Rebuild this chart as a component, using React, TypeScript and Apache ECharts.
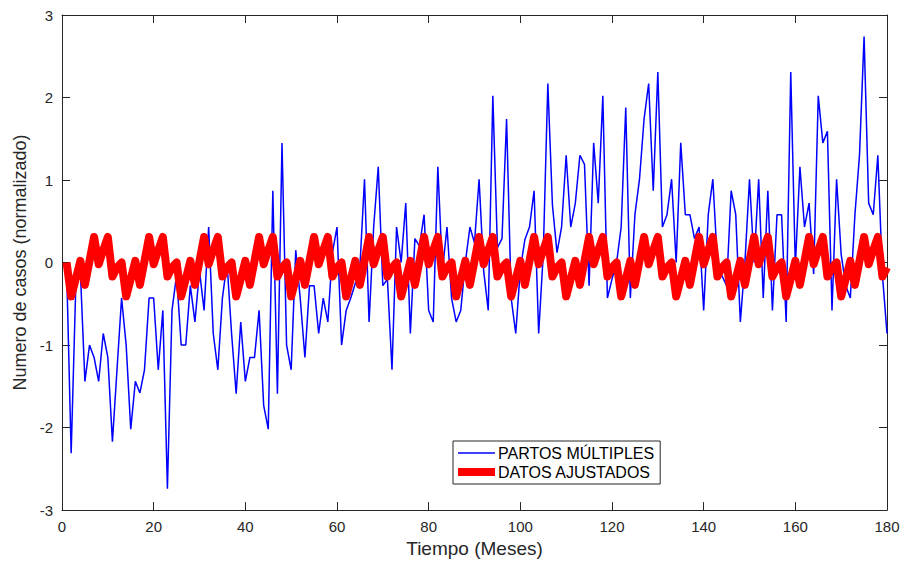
import React, { useEffect, useRef } from "react";
import * as echarts from "echarts";

const partosMultiples: number[] = [
  -0.05, -2.31, -0.3, -0.1, -1.44, -1.0, -1.15, -1.44, -0.86, -1.15, -2.17, -1.3,
  -0.43, -1.0, -2.02, -1.44, -1.58, -1.3, -0.43, -0.43, -1.3, -0.58, -2.74, -0.58,
  -0.15, -1.0, -1.0, -0.28, -0.72, -0.1, -0.58, 0.43, -0.86, -1.3, -0.43, 0.0,
  -0.86, -1.59, -0.72, -1.44, -1.15, -1.15, -0.58, -1.73, -2.02, 0.87, -1.59, 1.45,
  -1.0, -1.3, 0.15, -0.45, -1.15, -0.28, -0.28, -0.86, -0.43, -0.72, 0.12, 0.43,
  -1.0, -0.58, -0.43, -0.25, -0.05, 1.01, -0.72, 0.43, 1.16, -0.28, -0.2, -1.3,
  0.43, 0.0, 0.72, -0.86, 0.29, 0.2, 0.58, -0.58, -0.72, 1.16, -0.1, 0.43,
  -0.43, -0.72, -0.58, 0.0, 0.43, 0.24, 1.01, -0.1, -0.58, 2.02, 0.18, 0.29,
  1.74, -0.43, -0.86, -0.08, 0.28, 0.43, 0.87, -0.86, 0.1, 2.17, 0.7, 0.12,
  0.43, 1.3, 0.43, 0.72, 1.3, 1.19, -0.28, 1.45, 0.72, 2.02, -0.43, -0.2,
  0.0, 0.43, 1.88, -0.43, 0.58, 1.01, 1.74, 2.17, 0.87, 2.31, 0.43, 0.58,
  1.01, 0.0, 1.45, 0.58, 0.58, 0.29, 0.43, -0.58, 0.58, 1.01, 0.0, -0.16,
  -0.28, 0.87, 0.58, -0.72, 0.0, 1.01, 0.0, 1.01, -0.43, 0.87, -0.58, 0.58,
  0.58, -0.72, 2.31, -0.05, 1.16, 0.43, 0.72, -0.14, 2.02, 1.45, 1.59, -0.58,
  1.01, 0.1, -0.28, -0.43, 0.58, 1.3, 2.74, 0.72, 0.58, 1.3, -0.15, -0.86,
];

const datosAjustados: number[] = [
  0.0, -0.41, -0.2, 0.02, -0.27, 0.02, 0.31, -0.02, 0.15, 0.31, -0.17, -0.06,
  0.0, -0.41, -0.2, 0.02, -0.27, 0.02, 0.31, -0.02, 0.15, 0.31, -0.17, -0.06,
  0.0, -0.41, -0.2, 0.02, -0.27, 0.02, 0.31, -0.02, 0.15, 0.31, -0.17, -0.06,
  0.0, -0.41, -0.2, 0.02, -0.27, 0.02, 0.31, -0.02, 0.15, 0.31, -0.17, -0.06,
  0.0, -0.41, -0.2, 0.02, -0.27, 0.02, 0.31, -0.02, 0.15, 0.31, -0.17, -0.06,
  0.0, -0.41, -0.2, 0.02, -0.27, 0.02, 0.31, -0.02, 0.15, 0.31, -0.17, -0.06,
  0.0, -0.41, -0.2, 0.02, -0.27, 0.02, 0.31, -0.02, 0.15, 0.31, -0.17, -0.06,
  0.0, -0.41, -0.2, 0.02, -0.27, 0.02, 0.31, -0.02, 0.15, 0.31, -0.17, -0.06,
  0.0, -0.41, -0.2, 0.02, -0.27, 0.02, 0.31, -0.02, 0.15, 0.31, -0.17, -0.06,
  0.0, -0.41, -0.2, 0.02, -0.27, 0.02, 0.31, -0.02, 0.15, 0.31, -0.17, -0.06,
  0.0, -0.41, -0.2, 0.02, -0.27, 0.02, 0.31, -0.02, 0.15, 0.31, -0.17, -0.06,
  0.0, -0.41, -0.2, 0.02, -0.27, 0.02, 0.31, -0.02, 0.15, 0.31, -0.17, -0.06,
  0.0, -0.41, -0.2, 0.02, -0.27, 0.02, 0.31, -0.02, 0.15, 0.31, -0.17, -0.06,
  0.0, -0.41, -0.2, 0.02, -0.27, 0.02, 0.31, -0.02, 0.15, 0.31, -0.17, -0.06,
  0.0, -0.41, -0.2, 0.02, -0.27, 0.02, 0.31, -0.02, 0.15, 0.31, -0.17, -0.06,
];

const seriesNames = ["PARTOS MÚLTIPLES", "DATOS AJUSTADOS"];
const xTitle = "Tiempo (Meses)";
const yTitle = "Numero de casos (normalizado)";

const FONT = "'Liberation Sans', Arial, Helvetica, sans-serif";
const AXIS_COLOR = "#262626";

export default function App() {
  const ref = useRef<HTMLDivElement>(null);

  useEffect(() => {
    document.body.style.margin = "0";
    if (!ref.current) return;
    const chart = echarts.init(ref.current, undefined, { renderer: "svg" });

    const blue = partosMultiples.map((v, i) => [i + 1, v]);
    const red = datosAjustados.map((v, i) => [i + 1, v]);

    const baseX = {
      type: "value" as const,
      min: 0,
      max: 180,
      interval: 20,
      splitLine: { show: false },
      axisLine: { show: true, onZero: false, lineStyle: { color: AXIS_COLOR, width: 1 } },
      axisTick: { show: true, inside: true, length: 8, lineStyle: { color: AXIS_COLOR } },
    };
    const baseY = {
      type: "value" as const,
      min: -3,
      max: 3,
      interval: 1,
      splitLine: { show: false },
      axisLine: { show: true, onZero: false, lineStyle: { color: AXIS_COLOR, width: 1 } },
      axisTick: { show: true, inside: true, length: 8, lineStyle: { color: AXIS_COLOR } },
    };

    chart.setOption({
      animation: false,
      backgroundColor: "#ffffff",
      grid: { left: 62, right: 17, top: 15, bottom: 51, containLabel: false },
      xAxis: [
        {
          ...baseX,
          position: "bottom",
          name: xTitle,
          nameLocation: "middle",
          nameGap: 28,
          nameTextStyle: { fontFamily: FONT, fontSize: 19, color: AXIS_COLOR },
          axisLabel: { fontFamily: FONT, fontSize: 15, color: AXIS_COLOR, margin: 9 },
        },
        { ...baseX, position: "top", axisLabel: { show: false } },
      ],
      yAxis: [
        {
          ...baseY,
          position: "left",
          name: yTitle,
          nameLocation: "middle",
          nameGap: 32,
          nameTextStyle: { fontFamily: FONT, fontSize: 18, color: AXIS_COLOR },
          axisLabel: { fontFamily: FONT, fontSize: 15, color: AXIS_COLOR, margin: 9 },
        },
        { ...baseY, position: "right", axisLabel: { show: false } },
      ],
      legend: {
        orient: "vertical",
        left: 453,
        top: 441,
        data: [
          { name: seriesNames[0], icon: "path://M0,0 H37 V1.6 H0 Z" },
          { name: seriesNames[1], icon: "path://M0,0 H37 V8 H0 Z" },
        ],
        itemWidth: 37,
        itemHeight: 14,
        itemGap: 3,
        symbolKeepAspect: true,
        padding: [4, 6, 4, 5],
        borderColor: AXIS_COLOR,
        borderWidth: 1,
        backgroundColor: "#ffffff",
        textStyle: { fontFamily: FONT, fontSize: 16, color: "#000000", padding: [0, 0, 0, -2] },
      },
      series: [
        {
          name: seriesNames[0],
          type: "line",
          data: blue,
          symbol: "none",
          lineStyle: { color: "#0000ff", width: 1.5 },
          itemStyle: { color: "#0000ff" },
          z: 2,
        },
        {
          name: seriesNames[1],
          type: "line",
          data: red,
          symbol: "none",
          lineStyle: { color: "#ff0000", width: 8, join: "round", cap: "butt" },
          itemStyle: { color: "#ff0000" },
          z: 3,
        },
      ],
    });

    return () => chart.dispose();
  }, []);

  return <div ref={ref} style={{ width: 904, height: 563 }} />;
}
